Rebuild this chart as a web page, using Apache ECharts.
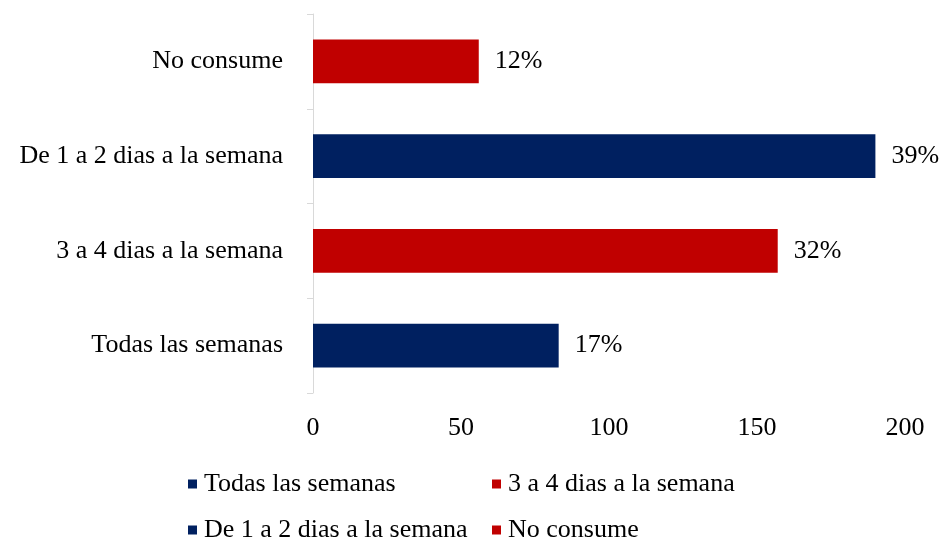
<!DOCTYPE html>
<html>
<head>
<meta charset="utf-8">
<title>Frecuencia de consumo</title>
<script src="https://cdn.jsdelivr.net/npm/echarts@6/dist/echarts.min.js"></script>
<style>
  html, body { margin: 0; padding: 0; background: #fff; }
  #chart { width: 942px; height: 537px; }
</style>
</head>
<body>
<div id="chart"></div>
<script>
// Categories from bottom to top of the vertical axis
const categories = ['Todas las semanas', '3 a 4 dias a la semana', 'De 1 a 2 dias a la semana', 'No consume'];
// Respondent counts per category
const values = [83, 157, 190, 56];
// Share of respondents shown next to each bar
const percents = ['17%', '32%', '39%', '12%'];
const barColors = ['#002060', '#C00000', '#002060', '#C00000'];
const xTicks = { min: 0, max: 200, interval: 50 };

const FONT = "'Liberation Serif', 'Times New Roman', serif";
const FS = 26;

// One series per category so each gets its own legend entry
const series = categories.map((name, i) => ({
  name: name,
  type: 'bar',
  stack: 'total',
  barWidth: '46%',
  itemStyle: { color: barColors[i] },
  label: {
    show: true,
    position: 'right',
    distance: 16,
    color: '#000',
    fontFamily: FONT,
    fontSize: FS,
    formatter: p => percents[p.dataIndex]
  },
  data: categories.map((c, j) => (j === i ? values[i] : '-'))
}));

// Legend laid out as a 2x2 block: [Todas, 3 a 4] / [De 1 a 2, No consume]
const legendSlots = [
  { name: categories[0], left: 183, top: 466 },
  { name: categories[1], left: 487, top: 466 },
  { name: categories[2], left: 183, top: 512 },
  { name: categories[3], left: 487, top: 512 }
];
const legends = legendSlots.map(s => ({
  left: s.left, top: s.top,
  itemWidth: 9, itemHeight: 9, icon: 'rect',
  textStyle: { color: '#000', fontFamily: FONT, fontSize: FS, padding: [0, 0, 0, 2] },
  data: [s.name]
}));

const option = {
  animation: false,
  grid: { left: 313, right: 37, top: 14, bottom: 144, containLabel: false },
  legend: legends,
  xAxis: {
    type: 'value',
    min: xTicks.min, max: xTicks.max, interval: xTicks.interval,
    axisLine: { show: false },
    axisTick: { show: false },
    splitLine: { show: false },
    axisLabel: { color: '#000', fontFamily: FONT, fontSize: FS, margin: 22 }
  },
  yAxis: {
    type: 'category',
    data: categories,
    axisLine: { show: true, lineStyle: { color: '#d9d9d9', width: 1 } },
    axisTick: { show: true, length: 6, lineStyle: { color: '#d9d9d9' } },
    axisLabel: { color: '#000', fontFamily: FONT, fontSize: FS, margin: 30 }
  },
  series: series
};

const chart = echarts.init(document.getElementById('chart'), null, { renderer: 'canvas' });
chart.setOption(option);
</script>
</body>
</html>
